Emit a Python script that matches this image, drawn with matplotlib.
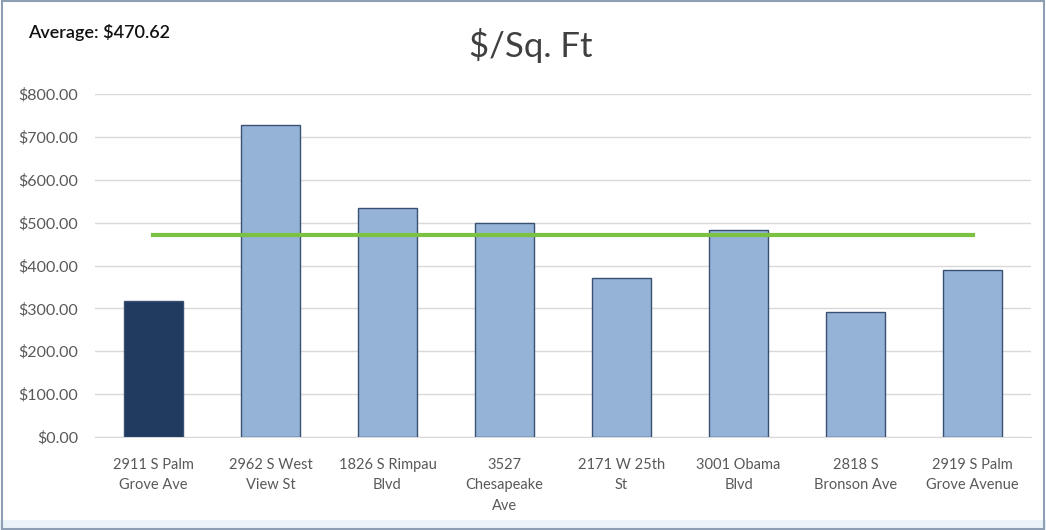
import numpy as np
import matplotlib.pyplot as plt
from matplotlib.patches import Rectangle

# ==============================================================================
# Data
# ==============================================================================
addresses = ['2911 S Palm\nGrove Ave', '2962 S West\nView St', '1826 S Rimpau\nBlvd',
             '3527\nChesapeake\nAve', '2171 W 25th\nSt', '3001 Obama\nBlvd',
             '2818 S\nBronson Ave', '2919 S Palm\nGrove Avenue']
price_per_sqft = [318, 727, 533, 498, 372, 483, 291, 390]
average = 470.62
y_ticks = [0, 100, 200, 300, 400, 500, 600, 700, 800]

# ==============================================================================
# Plot
# ==============================================================================
plt.rcParams['font.family'] = ['Lato', 'DejaVu Sans']

fig = plt.figure(figsize=(10.46, 5.30), dpi=100)
fig.patch.set_facecolor('white')

# outer frame and light strip along the bottom
fig.add_artist(Rectangle((0, 0), 1, 0.018, transform=fig.transFigure,
                         facecolor='#eaf3f8', edgecolor='none', zorder=0))
fig.add_artist(Rectangle((0.002, 0.002), 0.996, 0.996, transform=fig.transFigure,
                         fill=False, edgecolor='#8f9fb3', linewidth=1.5, zorder=5))

ax = fig.add_axes([0.0908, 0.1755, 0.8949, 0.6471])
x = np.arange(len(addresses))

colors = ['#203a60'] + ['#95b3d7'] * (len(addresses) - 1)
ax.bar(x, price_per_sqft, width=0.505, color=colors, edgecolor='#3a5072',
       linewidth=1.0, zorder=3)

# average line across the categories
ax.plot(x, [average] * len(x), color='#7cc242', linewidth=3, zorder=4)

ax.set_xlim(-0.5, len(addresses) - 0.5)
ax.set_ylim(0, 800)
ax.set_yticks(y_ticks)
ax.set_yticklabels(['${:,.2f}'.format(v) for v in y_ticks])
ax.set_xticks(x)
ax.set_xticklabels(addresses, linespacing=1.6)

ax.grid(axis='y', color='#d9d9d9', linewidth=1.0, zorder=0)
for s in ['top', 'right', 'left']:
    ax.spines[s].set_visible(False)
ax.spines['bottom'].set_color('#d9d9d9')
ax.tick_params(axis='both', length=0, labelcolor='#595959')
ax.tick_params(axis='y', pad=12, labelsize=11.5)
ax.tick_params(axis='x', pad=15, labelsize=10.5)

fig.text(0.507, 0.915, '$/Sq. Ft', ha='center', va='center', fontsize=25, color='#404040')
fig.text(0.027, 0.938, 'Average: $470.62', ha='left', va='center', fontsize=13,
         fontweight='semibold', color='#111111')

plt.savefig('out.png', dpi=100)
plt.close()
